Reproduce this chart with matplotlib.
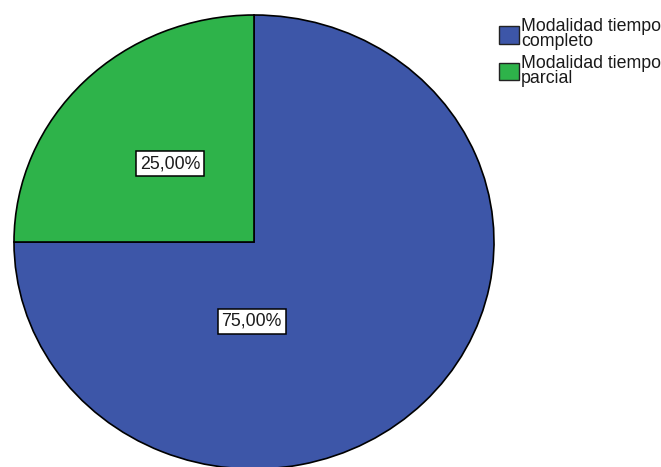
import matplotlib
matplotlib.use("Agg")
import matplotlib.pyplot as plt

categories = ["Modalidad tiempo\ncompleto", "Modalidad tiempo\nparcial"]
values = [75.0, 25.0]
colors = ["#3D56A8", "#2EB34A"]
label_pos = [(-0.01, -0.35), (-0.35, 0.345)]

plt.rcParams['font.family'] = ['Liberation Sans', 'DejaVu Sans']

fig = plt.figure(figsize=(6.61, 4.67), dpi=100)
ax = fig.add_axes([14/661, 1 - 469/467, 480/661, 454/467])

wedges, texts, autotexts = ax.pie(
    values, colors=colors, startangle=180, counterclock=True,
    autopct=lambda p: f"{p:.2f}%".replace('.', ','),
    wedgeprops=dict(edgecolor='black', linewidth=1.2),
    textprops=dict(fontsize=12.8, color='#1a1a1a'))
for t, pos in zip(autotexts, label_pos):
    t.set_position(pos)
    t.set_ha('center'); t.set_va('center')
    t.set_bbox(dict(boxstyle='square,pad=0.22', fc='white', ec='black', lw=1.1))
ax.set_aspect('auto')
ax.set_xlim(-1.0, 1.0)
ax.set_ylim(-1.0, 1.0)
ax.axis('off')

leg = fig.legend(wedges, categories, loc='upper left', bbox_to_anchor=(499/661, 1 - 18/467),
                 frameon=False, fontsize=12.8, handlelength=1.1, handleheight=1.15,
                 handletextpad=0.15, labelspacing=0.25, borderaxespad=0, borderpad=0)
for t in leg.get_texts():
    t.set_linespacing(0.88)
    t.set_color('#1a1a1a')
for h in leg.legend_handles:
    h.set_edgecolor('#222222')
    h.set_linewidth(1.0)

fig.savefig("out.png", dpi=100)
